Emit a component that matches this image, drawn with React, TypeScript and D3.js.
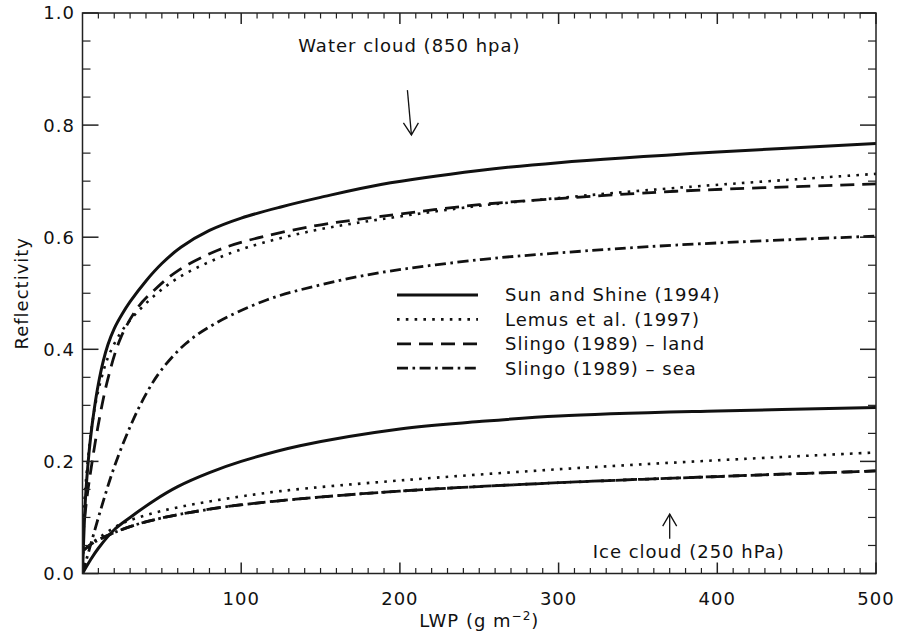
import React from "react";
import * as d3 from "d3";

// ---- data ----
const xTickValues = [100, 200, 300, 400, 500];
const yTickValues = [0.0, 0.2, 0.4, 0.6, 0.8, 1.0];
const legendLabels = ["Sun and Shine (1994)", "Lemus et al. (1997)", "Slingo (1989) \u2013 land", "Slingo (1989) \u2013 sea"];

// Water cloud (850 hPa)
const sunWaterLWP = [0, 1, 2, 3.3, 5, 7.4, 10, 13, 16, 20, 25, 30, 40, 50, 62, 80, 100, 125, 150, 188, 250, 300, 400, 500];
const sunWaterR = [0, 0.08, 0.14, 0.19, 0.24, 0.293, 0.338, 0.378, 0.408, 0.437, 0.463, 0.485, 0.522, 0.553, 0.582, 0.612, 0.634, 0.654, 0.671, 0.694, 0.719, 0.733, 0.752, 0.767];
const lemusWaterLWP = [0, 1, 2.2, 5.3, 8, 11.6, 16, 22, 30, 45, 60, 80, 104, 146, 188, 250, 300, 374, 500];
const lemusWaterR = [0.07, 0.12, 0.166, 0.25, 0.3, 0.345, 0.385, 0.42, 0.452, 0.495, 0.527, 0.556, 0.582, 0.612, 0.632, 0.656, 0.67, 0.688, 0.713];
const landWaterLWP = [0, 1, 3, 5.3, 9.6, 15.8, 24, 35, 45, 60, 83, 104, 146, 188, 250, 300, 374, 500];
const landWaterR = [0.06, 0.09, 0.14, 0.185, 0.26, 0.345, 0.42, 0.475, 0.505, 0.54, 0.574, 0.594, 0.62, 0.637, 0.658, 0.669, 0.682, 0.695];
const seaWaterLWP = [0, 5, 11.6, 20, 30.5, 40, 49.4, 65, 83, 116, 150, 188, 251, 300, 374, 500];
const seaWaterR = [0.0, 0.05, 0.115, 0.19, 0.265, 0.32, 0.362, 0.41, 0.445, 0.488, 0.515, 0.537, 0.56, 0.572, 0.586, 0.602];

// Ice cloud (250 hPa)
const sunIceLWP = [0, 5, 10, 20, 30, 45, 60, 80, 100, 137, 200, 250, 300, 400, 500];
const sunIceR = [0, 0.024, 0.045, 0.078, 0.1, 0.13, 0.155, 0.18, 0.2, 0.228, 0.258, 0.271, 0.281, 0.29, 0.296];
const lemusIceLWP = [0, 3, 11, 24, 41, 60, 83, 125, 200, 300, 400, 500];
const lemusIceR = [0.035, 0.047, 0.065, 0.088, 0.105, 0.118, 0.13, 0.147, 0.166, 0.186, 0.202, 0.216];
const slingoIceLWP = [0, 7, 20, 41, 83, 125, 200, 300, 400, 500];
const slingoIceR = [0.04, 0.055, 0.073, 0.093, 0.116, 0.13, 0.147, 0.162, 0.173, 0.183];

// annotations in data units
const waterNote = { text: "Water cloud (850 hpa)", x: 206, textY: 0.93, arrowFrom: 0.8625, arrowTo: 0.7825 };
const iceNote = { text: "Ice cloud (250 hPa)", x: 370, textX: 382, textY: 0.027, arrowFrom: 0.062, arrowTo: 0.106 };

// ---- styles ----
const STYLES: Record<string, { dash?: string; width: number }> = {
  sun: { width: 3 },
  lemus: { dash: "2.6 6.2", width: 2.6 },
  land: { dash: "14 8", width: 2.8 },
  sea: { dash: "11 4.5 2.6 4.5", width: 2.8 },
};

const W = 906, H = 633;
const L = 82.5, R = 876, T = 13, B = 573.5;
const FONT = "'DejaVu Sans', sans-serif";

const zip = (a: number[], b: number[]) => a.map((v, i) => [v, b[i]] as [number, number]);

export default function App() {
  const x = d3.scaleLinear().domain([0, 500]).range([L, R]);
  const y = d3.scaleLinear().domain([0, 1]).range([B, T]);
  const line = d3
    .line<[number, number]>()
    .x((d) => x(d[0]))
    .y((d) => y(d[1]))
    .curve(d3.curveCatmullRom.alpha(0.5));

  const curves = [
    { key: "sun", d: zip(sunWaterLWP, sunWaterR) },
    { key: "lemus", d: zip(lemusWaterLWP, lemusWaterR) },
    { key: "land", d: zip(landWaterLWP, landWaterR) },
    { key: "sea", d: zip(seaWaterLWP, seaWaterR) },
    { key: "sun", d: zip(sunIceLWP, sunIceR) },
    { key: "lemus", d: zip(lemusIceLWP, lemusIceR) },
    { key: "land", d: zip(slingoIceLWP, slingoIceR) },
    { key: "sea", d: zip(slingoIceLWP, slingoIceR) },
  ];
  const keys = ["sun", "lemus", "land", "sea"];

  const xMinor = d3.range(10, 500, 10).filter((v) => v % 100 !== 0);
  const yMinor = d3.range(0.05, 1, 0.05).filter((v) => Math.abs(v * 5 - Math.round(v * 5)) > 1e-6);

  const textStyle = { fontFamily: FONT, fontSize: 18, letterSpacing: 1, fill: "#111" } as const;

  const wx = x(waterNote.x);
  const ix = x(iceNote.x);

  return (
    <svg width={W} height={H} style={{ position: "absolute", left: 0, top: 0, background: "#fff" }}>
      <rect x={0} y={0} width={W} height={H} fill="#fff" />
      <defs>
        <clipPath id="plotClip">
          <rect x={L} y={T} width={R - L} height={B - T} />
        </clipPath>
      </defs>
      <g clipPath="url(#plotClip)">
        {curves.map((c, i) => (
          <path
            key={i}
            d={line(c.d) || ""}
            fill="none"
            stroke="#111"
            strokeWidth={STYLES[c.key].width}
            strokeDasharray={STYLES[c.key].dash}
          />
        ))}
      </g>

      {/* frame */}
      <rect x={L} y={T} width={R - L} height={B - T} fill="none" stroke="#222" strokeWidth={1.5} />

      {/* x ticks bottom & top */}
      {xTickValues.map((v) => (
        <g key={"xt" + v}>
          <line x1={x(v)} x2={x(v)} y1={B} y2={B - 11} stroke="#222" strokeWidth={1.5} />
          <line x1={x(v)} x2={x(v)} y1={T} y2={T + 11} stroke="#222" strokeWidth={1.5} />
          <text x={x(v)} y={605} textAnchor="middle" {...textStyle}>{v}</text>
        </g>
      ))}
      {xMinor.map((v) => (
        <g key={"xm" + v}>
          <line x1={x(v)} x2={x(v)} y1={B} y2={B - 5.5} stroke="#222" strokeWidth={1.2} />
          <line x1={x(v)} x2={x(v)} y1={T} y2={T + 5.5} stroke="#222" strokeWidth={1.2} />
        </g>
      ))}

      {/* y ticks left & right */}
      {yTickValues.map((v) => (
        <g key={"yt" + v}>
          <line x1={L} x2={L + 16} y1={y(v)} y2={y(v)} stroke="#222" strokeWidth={1.5} />
          <line x1={R} x2={R - 16} y1={y(v)} y2={y(v)} stroke="#222" strokeWidth={1.5} />
          <text x={75} y={y(v)} dy="0.36em" textAnchor="end" {...textStyle}>{v.toFixed(1)}</text>
        </g>
      ))}
      {yMinor.map((v) => (
        <g key={"ym" + v}>
          <line x1={L} x2={L + 8} y1={y(v)} y2={y(v)} stroke="#222" strokeWidth={1.2} />
          <line x1={R} x2={R - 8} y1={y(v)} y2={y(v)} stroke="#222" strokeWidth={1.2} />
        </g>
      ))}

      {/* axis titles */}
      <text x={(L + R) / 2} y={627} textAnchor="middle" {...textStyle}>
        LWP (g m<tspan dy={-7} fontSize={12}>{"\u22122"}</tspan>
        <tspan dy={7}>)</tspan>
      </text>
      <text transform={`translate(28, ${(T + B) / 2}) rotate(-90)`} textAnchor="middle" {...textStyle}>
        Reflectivity
      </text>

      {/* legend */}
      {keys.map((k, i) => {
        const ly = 295 + i * 24.4;
        return (
          <g key={"lg" + k}>
            <line x1={397} x2={478} y1={ly} y2={ly} stroke="#111" strokeWidth={STYLES[k].width} strokeDasharray={STYLES[k].dash} />
            <text x={505} y={ly} dy="0.36em" {...textStyle}>{legendLabels[i]}</text>
          </g>
        );
      })}

      {/* water annotation */}
      <text x={wx} y={y(waterNote.textY)} textAnchor="middle" {...textStyle}>{waterNote.text}</text>
      <line x1={wx - 2} y1={y(waterNote.arrowFrom)} x2={wx + 2} y2={y(waterNote.arrowTo)} stroke="#111" strokeWidth={1.3} />
      <polyline
        points={`${wx - 6},${y(waterNote.arrowTo) - 12} ${wx + 2},${y(waterNote.arrowTo)} ${wx + 9},${y(waterNote.arrowTo) - 12}`}
        fill="none"
        stroke="#111"
        strokeWidth={1.3}
      />

      {/* ice annotation */}
      <text x={x(iceNote.textX)} y={y(iceNote.textY)} textAnchor="middle" {...textStyle}>{iceNote.text}</text>
      <line x1={ix} y1={y(iceNote.arrowFrom)} x2={ix} y2={y(iceNote.arrowTo)} stroke="#111" strokeWidth={1.3} />
      <polyline
        points={`${ix - 7},${y(iceNote.arrowTo) + 12} ${ix},${y(iceNote.arrowTo)} ${ix + 7},${y(iceNote.arrowTo) + 12}`}
        fill="none"
        stroke="#111"
        strokeWidth={1.3}
      />
    </svg>
  );
}
